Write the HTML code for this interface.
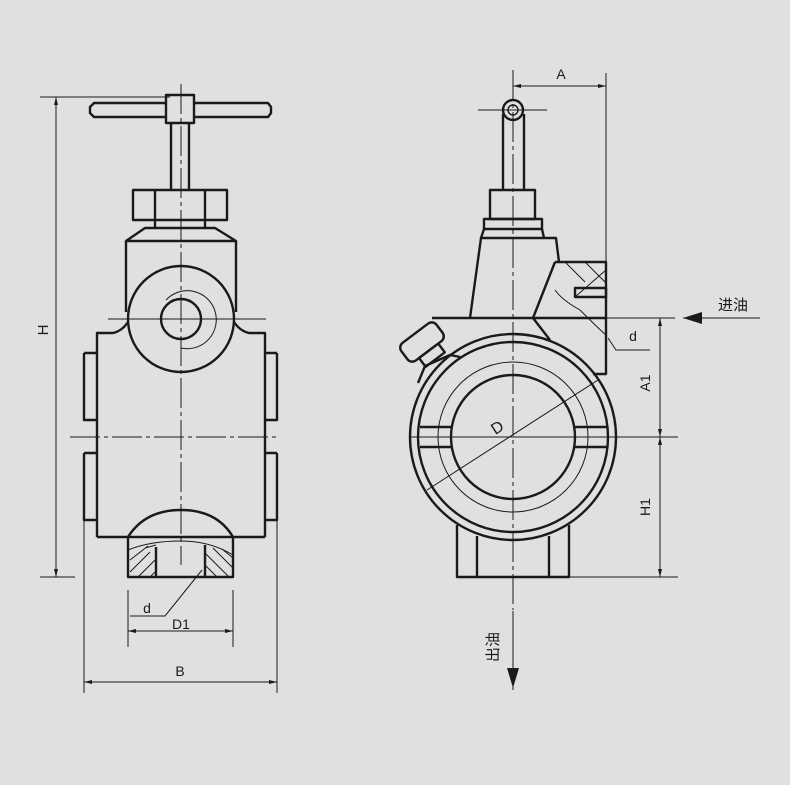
<!DOCTYPE html>
<html><head><meta charset="utf-8"><style>
html,body{margin:0;padding:0;background:#e0e0e0;}
svg{display:block;}
text{font-family:"Liberation Sans","Noto Sans CJK SC",sans-serif;fill:#1a1a1a;}
</style></head><body>
<svg width="790" height="785" viewBox="0 0 790 785" xmlns="http://www.w3.org/2000/svg">
<rect width="790" height="785" fill="#e0e0e0"/>
<g stroke="#1a1a1a" fill="none" stroke-width="2.4" stroke-linejoin="round">
<path d="M94,103 H268 L271,107 V113 L268,117 H94 L90,113 V107 Z" fill="#e0e0e0"/>
<rect x="166" y="95" width="28" height="28" fill="#e0e0e0"/>
<path d="M171,123 V190 M189,123 V190"/>
<rect x="133" y="190" width="94" height="30"/>
<path d="M155,190 V220 M205,190 V220 M155,220 V228 M205,220 V228"/>
<path d="M145,228 H215 L236,241 H126 Z"/>
<path d="M126,241 V312 M236,241 V312"/>
<circle cx="181" cy="319" r="53"/>
<circle cx="181" cy="319" r="20"/>
<path d="M97,537 V333 H113 Q122,331 128,322 M265,537 V333 H249 Q240,331 234,322"/>
<path d="M97,537 H128 M233,537 H265"/>
<path d="M84,353 H97 M84,353 V420 H97 M84,453 H97 M84,453 V520 H97"/>
<path d="M277,353 H265 M277,353 V420 H265 M277,453 H265 M277,453 V520 H265"/>
<path d="M128,537 Q145,510 181,510 Q217,510 233,537"/>
<rect x="128" y="537" width="105" height="40"/>
<path d="M156,547 V577 M205,545 V577"/>
<circle cx="513" cy="110" r="10"/>
<circle cx="513" cy="110" r="5" stroke-width="1.4"/>
<path d="M503,114 V190 M524,114 V190"/>
<rect x="490" y="190" width="45" height="29"/>
<path d="M484,219 H542 V229 H484 Z"/>
<path d="M484,229 L481,238 H556 L559,262 M542,229 L544,238"/>
<path d="M481,238 L470,318"/>
<path d="M555,262 H606 V374 H593"/>
<path d="M555,262 L533,318 L550,340"/>
<path d="M575,288 H606 V297 H575 Z"/>
<path d="M432,318 H606"/>
<circle cx="513" cy="437" r="103"/>
<circle cx="513" cy="437" r="95"/>
<circle cx="513" cy="437" r="62"/>
<path d="M420,427 H452 M420,447 H452 M575,427 H607 M575,447 H607"/>
<path d="M457,525 V577 H569 V525 M477,536 V577 M549,536 V577"/>
<g transform="rotate(-37 422 342)">
<rect x="400" y="331" width="44" height="22" rx="6"/>
<rect x="410" y="353" width="24" height="11"/>
</g>
<path d="M418,383 L425,366 L450,355 L460,357"/>
</g>
<g stroke="#1a1a1a" fill="none" stroke-width="1">
<path d="M181,84 V565" stroke-dasharray="30,4,4,4"/>
<path d="M108,319 H266"/>
<path d="M70,437 H278" stroke-dasharray="30,4,4,4"/>
<path d="M166,300 A29,29 0 1 1 181,348"/>
<path d="M128,550 Q150,541 181,541 Q210,541 233,555"/>
<path d="M130,560 L148,546 M130,572 L150,552 M138,577 L156,559 M150,577 L156,571 M145,548 L156,545 M205,553 L229,577 M205,565 L217,577 M213,548 L233,568 M222,549 L233,558"/>
<path d="M40,97 H170 M40,577 H75 M56,97 V577"/>
<path d="M202,570 L165,616 H130"/>
<path d="M128,590 V647 M233,590 V647 M128,631 H233"/>
<path d="M84,520 V693 M277,520 V693 M84,682 H277"/>
<path d="M513,70 V610" stroke-dasharray="30,4,4,4"/>
<path d="M478,110 H547"/>
<path d="M606,73 V262 M513,86 H606"/>
<path d="M606,318 H675 M660,318 V577 M569,577 H678 M410,437 H678" />
<circle cx="513" cy="437" r="75"/>
<path d="M427,490 L598,380"/>
<path d="M608,338 L616,350 H650"/>
<path d="M565,262 L585,282 M585,262 L606,283 M575,297 L606,270 M555,290 Q562,300 580,310 Q600,330 606,335"/>
<path d="M683,318 H760 M513,611 V690"/>
</g>
<g fill="#1a1a1a">
<path d="M683,318 L702,312 V324 Z"/>
<path d="M513,688 L507,668 H519 Z"/>
<path d="M56,97 l-2,8 h4 Z M56,577 l-2,-8 h4 Z M128,631 l8,-2 v4 Z M233,631 l-8,-2 v4 Z M84,682 l8,-2 v4 Z M277,682 l-8,-2 v4 Z M513,86 l8,-2 v4 Z M606,86 l-8,-2 v4 Z M660,318 l-2,8 h4 Z M660,437 l-2,-8 h4 Z M660,437 l-2,8 h4 Z M660,577 l-2,-8 h4 Z"/>
</g>
<text x="181" y="629" font-size="14" text-anchor="middle">D1</text>
<text x="147" y="613" font-size="14" text-anchor="middle">d</text>
<text x="180" y="676" font-size="14" text-anchor="middle">B</text>
<text x="48" y="330" font-size="15" text-anchor="middle" transform="rotate(-90 48 330)">H</text>
<text x="561" y="79" font-size="14" text-anchor="middle">A</text>
<text x="633" y="341" font-size="14" text-anchor="middle">d</text>
<text x="650" y="383" font-size="14" text-anchor="middle" transform="rotate(-90 650 383)">A1</text>
<text x="650" y="507" font-size="14" text-anchor="middle" transform="rotate(-90 650 507)">H1</text>
<text x="733" y="310" font-size="15" text-anchor="middle">进油</text>
<text x="493" y="652" font-size="15" text-anchor="middle" transform="rotate(-90 493 647)">出油</text>
<text x="497" y="433" font-size="16" text-anchor="middle" transform="rotate(-33 497 427)">D</text>
</svg>
</body></html>
